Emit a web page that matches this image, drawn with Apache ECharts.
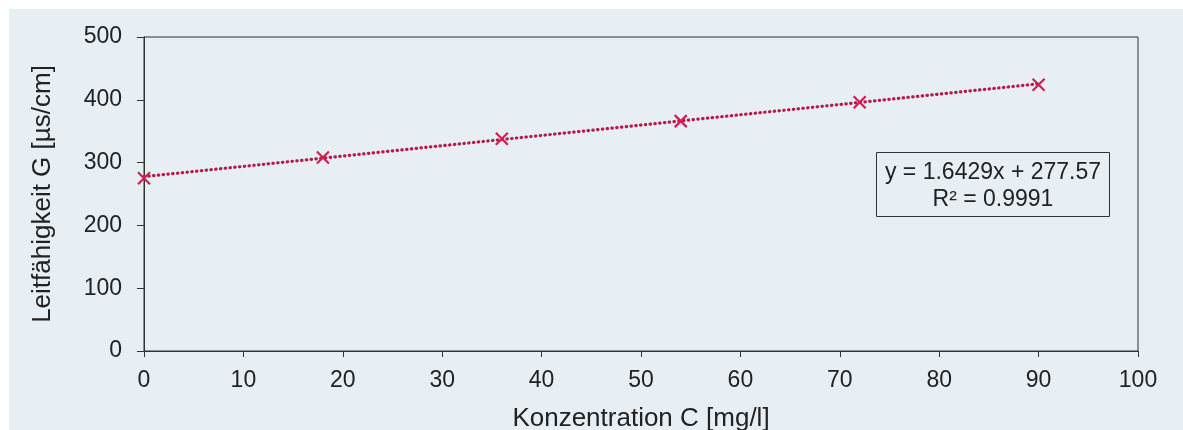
<!DOCTYPE html>
<html>
<head>
<meta charset="utf-8">
<script src="https://cdn.jsdelivr.net/npm/echarts@6/dist/echarts.min.js"></script>
<style>
  html, body { margin: 0; padding: 0; background: #ffffff; }
  #chart { position: absolute; left: 9px; top: 9px; width: 1174px; height: 421px; }
</style>
</head>
<body>
<div id="chart"></div>
<script>
// Measured conductivity vs. concentration
const concentration = [0, 18, 36, 54, 72, 90];          // C [mg/l]
const conductivity  = [275, 308, 338, 366, 396, 424];   // G [µs/cm]

// Linear fit as printed in the equation box
const slope = 1.6429;
const intercept = 277.57;
const rSquared = 0.9991;

const xTicks = [0, 10, 20, 30, 40, 50, 60, 70, 80, 90, 100];
const yTicks = [0, 100, 200, 300, 400, 500];

const FONT = '"Liberation Sans", Arial, sans-serif';
const RED = '#cc2150';
const LINE_RED = '#b51a48';

const trendX = [concentration[0], concentration[concentration.length - 1]];
const trendData = trendX.map(x => [x, slope * x + intercept]);
const pointData = concentration.map((c, i) => [c, conductivity[i]]);

const chart = echarts.init(document.getElementById('chart'));
chart.setOption({
  backgroundColor: '#e7eef4',
  animation: false,
  grid: {
    left: 135, right: 45, top: 28, bottom: 79,
    containLabel: false,
    outerBoundsMode: 'none',
    show: true, borderColor: '#333', borderWidth: 1, backgroundColor: 'transparent'
  },
  xAxis: {
    type: 'value',
    min: xTicks[0], max: xTicks[xTicks.length - 1], interval: 10,
    name: 'Konzentration C [mg/l]',
    nameLocation: 'middle', nameGap: 55,
    nameTextStyle: { fontFamily: FONT, fontSize: 26, color: '#222' },
    axisLine: { show: true, onZero: false, lineStyle: { color: '#333', width: 1 } },
    axisTick: { show: true, inside: false, length: 6, lineStyle: { color: '#333' } },
    axisLabel: { fontFamily: FONT, fontSize: 23, color: '#222', margin: 18 },
    splitLine: { show: false }
  },
  yAxis: {
    type: 'value',
    min: yTicks[0], max: yTicks[yTicks.length - 1], interval: 100,
    name: 'Leitfähigkeit G [µs/cm]',
    nameLocation: 'middle', nameGap: 88, nameRotate: 90,
    nameTextStyle: { fontFamily: FONT, fontSize: 26, color: '#222' },
    axisLine: { show: true, onZero: false, lineStyle: { color: '#333', width: 1 } },
    axisTick: { show: true, inside: false, length: 7, lineStyle: { color: '#333' } },
    axisLabel: { fontFamily: FONT, fontSize: 23, color: '#222', margin: 22 },
    splitLine: { show: false }
  },
  series: [
    {
      name: 'Trend',
      type: 'line',
      data: trendData,
      symbol: 'none',
      silent: true,
      lineStyle: { color: LINE_RED, width: 3.2, type: [0.4, 4.4], cap: 'round' },
      z: 2
    },
    {
      name: 'Messwerte',
      type: 'scatter',
      data: pointData,
      symbol: 'path://M0,0L10,10M10,0L0,10',
      symbolSize: [12, 12],
      itemStyle: { color: 'rgba(0,0,0,0)', borderColor: RED, borderWidth: 2.2, opacity: 1 },
      z: 3
    }
  ],
  graphic: [
    {
      type: 'rect',
      left: 867, top: 143,
      shape: { width: 233, height: 64 },
      style: { fill: 'rgba(0,0,0,0)', stroke: '#333', lineWidth: 1 },
      z: 10
    },
    {
      type: 'text',
      x: 984, y: 177,
      style: {
        text: 'y = ' + slope + 'x + ' + intercept + '\nR² = ' + rSquared,
        font: '23px ' + FONT,
        fill: '#222',
        align: 'center',
        verticalAlign: 'middle',
        lineHeight: 27
      },
      z: 11
    }
  ]
});
</script>
</body>
</html>
